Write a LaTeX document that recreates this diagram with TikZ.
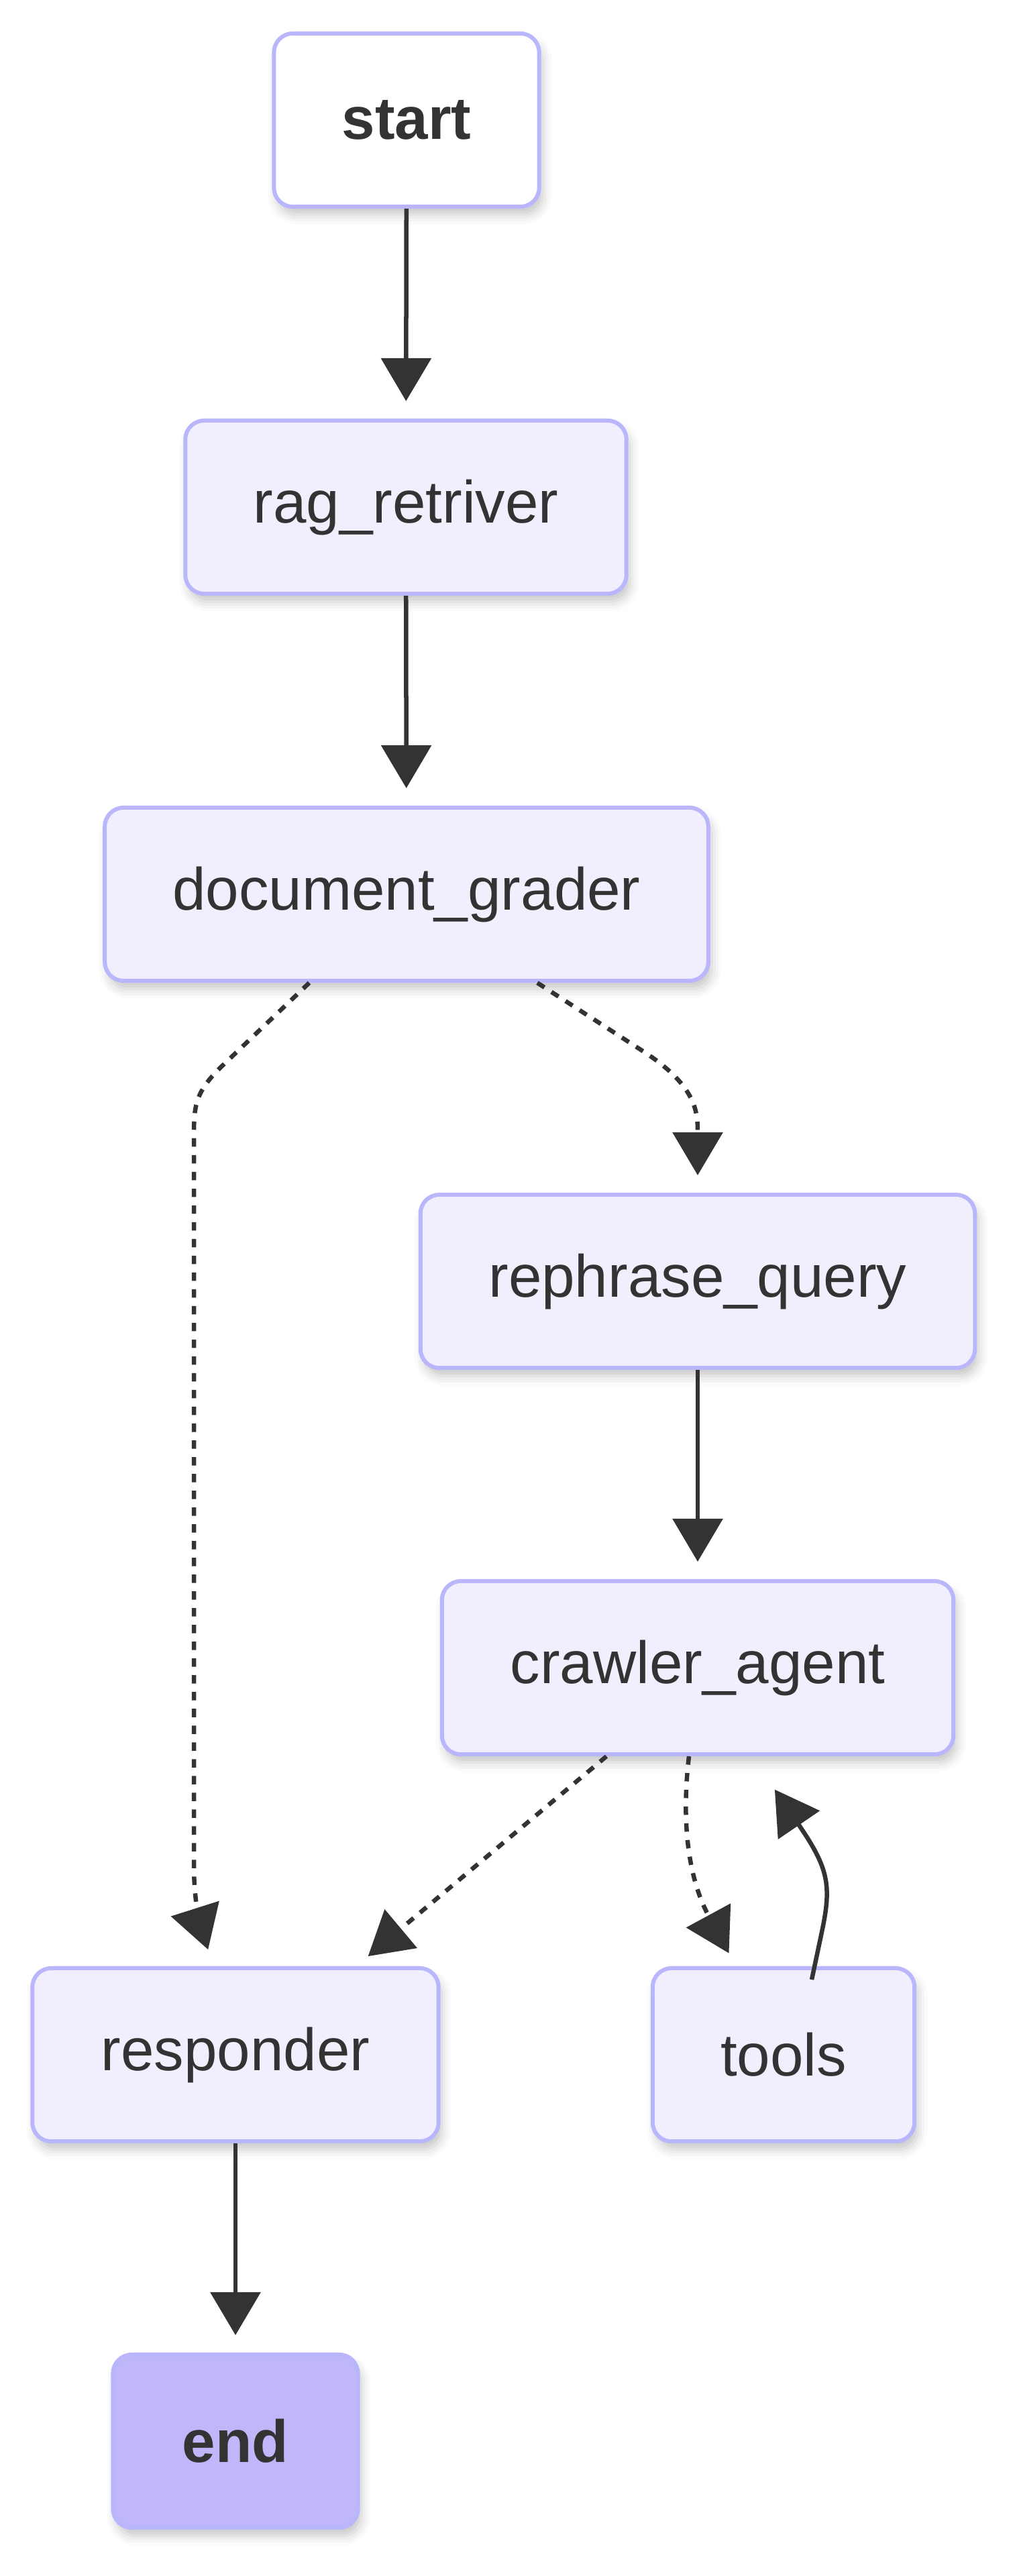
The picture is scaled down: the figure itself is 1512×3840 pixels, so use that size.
\documentclass[tikz,border=0pt]{standalone}
\usepackage{fontspec}
\setmainfont{Liberation Sans}
\usetikzlibrary{arrows.meta,positioning,calc,shadows.blur}

\definecolor{nodefill}{HTML}{F1EFFE}
\definecolor{nodeline}{HTML}{BAB6FC}
\definecolor{endfill}{HTML}{BFB7FA}
\definecolor{ink}{HTML}{333333}

\tikzset{
  box/.style={draw=nodeline, line width=0.06cm, fill=nodefill, rounded corners=0.28cm,
    minimum height=2.58cm, inner sep=0pt, text=ink,
    font=\fontsize{25.3pt}{30pt}\selectfont,
    blur shadow={shadow xshift=0.05cm, shadow yshift=-0.12cm, shadow blur radius=0.14cm, shadow opacity=22}},
  terminal/.style={box, font=\fontsize{25.3pt}{30pt}\selectfont\bfseries},
  flow/.style={draw=ink, line width=0.065cm, -{Triangle[length=0.64cm,width=0.74cm]}, shorten >=0.26cm},
  maybe/.style={flow, dash pattern=on 0.125cm off 0.125cm}
}

\begin{document}
\begin{tikzpicture}[x=0.01cm, y=-0.01cm]
  \useasboundingbox (0,0) rectangle (1512,3840);

  % Nodes
  \node[terminal, fill=white, minimum width=3.95cm] (start) at (606,179) {start};
  \node[box, minimum width=6.57cm] (rag) at (605,756) {rag\_retriver};
  \node[box, minimum width=8.99cm] (grader) at (606,1333) {document\_grader};
  \node[box, minimum width=8.26cm] (rephrase) at (1040,1910) {rephrase\_query};
  \node[box, minimum width=7.62cm] (crawler) at (1040,2486) {crawler\_agent};
  \node[box, minimum width=6.05cm] (responder) at (351,3063) {responder};
  \node[box, minimum width=3.90cm] (tools) at (1168,3063) {tools};
  \node[terminal, fill=endfill, minimum width=3.65cm] (finish) at (351,3639) {end};

  % Solid edges
  \draw[flow] (start) -- (rag);
  \draw[flow] (rag) -- (grader);
  \draw[flow] (rephrase) -- (crawler);
  \draw[flow] (responder) -- (finish);

  % Conditional edges
  \draw[maybe] ($(grader.south)+(-145,0)$) -- (330,1590)
    .. controls (289,1630) and (289,1650) .. (289,1700) -- (289,2780)
    .. controls (289,2850) and (305,2890) .. ($(responder.north)+(-33,0)$);
  \draw[maybe] ($(grader.south)+(195,0)$) -- (960,1568)
    .. controls (1040,1620) and (1040,1660) .. (rephrase.north);
  \draw[maybe, shorten >=0.23cm] ($(crawler.south)+(-136,0)$) -- ($(responder.north)+(180,0)$);
  \draw[maybe, shorten >=0.22cm] ($(crawler.south)+(-13,0)$)
    .. controls (1015,2720) and (1027,2802) .. ($(tools.north)+(-71,0)$);

  % Loop back
  \draw[flow, shorten >=0.6cm] ($(tools.north)+(42,20)$) -- (1225,2880)
    .. controls (1240,2810) and (1235,2785) .. ($(crawler.south)+(81,0)$);
\end{tikzpicture}
\end{document}
